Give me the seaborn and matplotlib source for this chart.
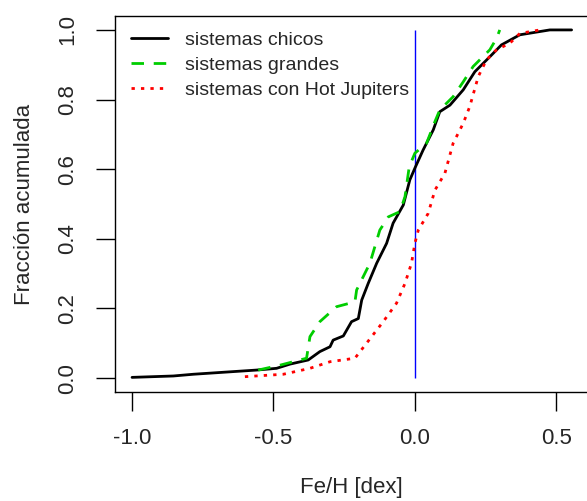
import numpy as np
import pandas as pd
import matplotlib
matplotlib.use("Agg")
import matplotlib.pyplot as plt
import seaborn as sns

# ---- data (cumulative fractions vs [Fe/H]) ----
chicos_x = [-1.0, -0.854, -0.783, -0.56, -0.489, -0.442, -0.377, -0.336, -0.30, -0.289,
            -0.253, -0.224, -0.20, -0.188, -0.165, -0.135, -0.10, -0.077, -0.041, -0.018,
            0.0, 0.029, 0.065, 0.088, 0.124, 0.171, 0.212, 0.265, 0.306, 0.371, 0.477, 0.554]
chicos_y = [0.002, 0.006, 0.011, 0.023, 0.028, 0.04, 0.052, 0.076, 0.09, 0.109,
            0.121, 0.162, 0.171, 0.224, 0.272, 0.33, 0.387, 0.445, 0.497, 0.569,
            0.603, 0.655, 0.713, 0.765, 0.784, 0.828, 0.88, 0.923, 0.957, 0.986, 1.0, 1.0]

grandes_x = [-0.554, -0.477, -0.383, -0.371, -0.336, -0.277, -0.212, -0.206, -0.159, -0.124,
             -0.094, -0.053, -0.035, -0.02, 0.0, 0.041, 0.071, 0.088, 0.135, 0.171,
             0.206, 0.265, 0.289, 0.30]
grandes_y = [0.023, 0.037, 0.057, 0.119, 0.162, 0.205, 0.219, 0.253, 0.33, 0.425,
             0.463, 0.478, 0.521, 0.607, 0.646, 0.674, 0.737, 0.77, 0.808, 0.851,
             0.895, 0.943, 0.976, 1.0]

hj_x = [-0.601, -0.465, -0.371, -0.30, -0.212, -0.171, -0.112, -0.065, -0.035, -0.012,
        0.0, 0.012, 0.047, 0.071, 0.106, 0.135, 0.171, 0.194, 0.224, 0.253,
        0.289, 0.336, 0.371, 0.442]
hj_y = [0.004, 0.011, 0.028, 0.047, 0.057, 0.10, 0.162, 0.215, 0.272, 0.33,
        0.387, 0.425, 0.473, 0.54, 0.588, 0.674, 0.732, 0.78, 0.866, 0.914,
        0.943, 0.962, 0.99, 1.0]

labels = ["sistemas chicos", "sistemas grandes", "sistemas con Hot Jupiters"]
ref_x = 0.0
x_ticks = [-1.0, -0.5, 0.0, 0.5]
y_ticks = [0.0, 0.2, 0.4, 0.6, 0.8, 1.0]

sns.set_style("white")
plt.rcParams["font.family"] = ["Liberation Sans", "DejaVu Sans"]

W, H = 587, 501
fig = plt.figure(figsize=(W / 100, H / 100), dpi=100)
ax = fig.add_axes([114.5 / W, (H - 392) / H, (588 - 114.5) / W, (392 - 16) / H])

series = [
    (chicos_x, chicos_y, labels[0], "black", None),
    (grandes_x, grandes_y, labels[1], "#00CD00", (0, (4.5, 3.5))),
    (hj_x, hj_y, labels[2], "#FF0000", (0, (1.2, 2.2))),
]
for xs, ys, lab, col, dash in series:
    df = pd.DataFrame({"x": xs, "y": ys})
    sns.lineplot(data=df, x="x", y="y", ax=ax, color=col, lw=2.0,
                 estimator=None, sort=False, label=lab)
    if dash is not None:
        ax.lines[-1].set_linestyle(dash)

ax.vlines(ref_x, 0, 1, colors="#0000FF", lw=1.0, zorder=1)

ax.set_xlim(-1.062, 0.612)
ax.set_ylim(-0.04, 1.04)
ax.set_xticks(x_ticks)
ax.set_xticklabels([f"{v:.1f}" for v in x_ticks])
ax.set_yticks(y_ticks)
ax.set_yticklabels([f"{v:.1f}" for v in y_ticks], rotation=90, va="center")
ax.tick_params(axis="both", which="major", direction="out", length=14, width=1,
               color="black", labelsize=16, bottom=True, left=True)
ax.tick_params(axis="x", pad=12)
ax.tick_params(axis="y", pad=12)
for s in ax.spines.values():
    s.set_color("black")
    s.set_linewidth(1.0)

ax.set_xlabel("Fe/H [dex]", fontsize=16, labelpad=20)
ax.set_ylabel("Fracción acumulada", fontsize=16, labelpad=16)

leg = ax.legend(loc="upper left", frameon=False, fontsize=14,
                handlelength=1.95, handletextpad=0.85, labelspacing=0.38,
                borderaxespad=0.0, borderpad=0.0,
                bbox_to_anchor=((130.5 - 114.5) / (588 - 114.5), 1 - (31 - 16) / (392 - 16)))
for h, (_, _, _, col, dash) in zip(leg.get_lines(), series):
    h.set_color(col)
    h.set_linewidth(2.0)
    if dash is not None:
        h.set_linestyle(dash)

fig.savefig("out.png", dpi=100)
